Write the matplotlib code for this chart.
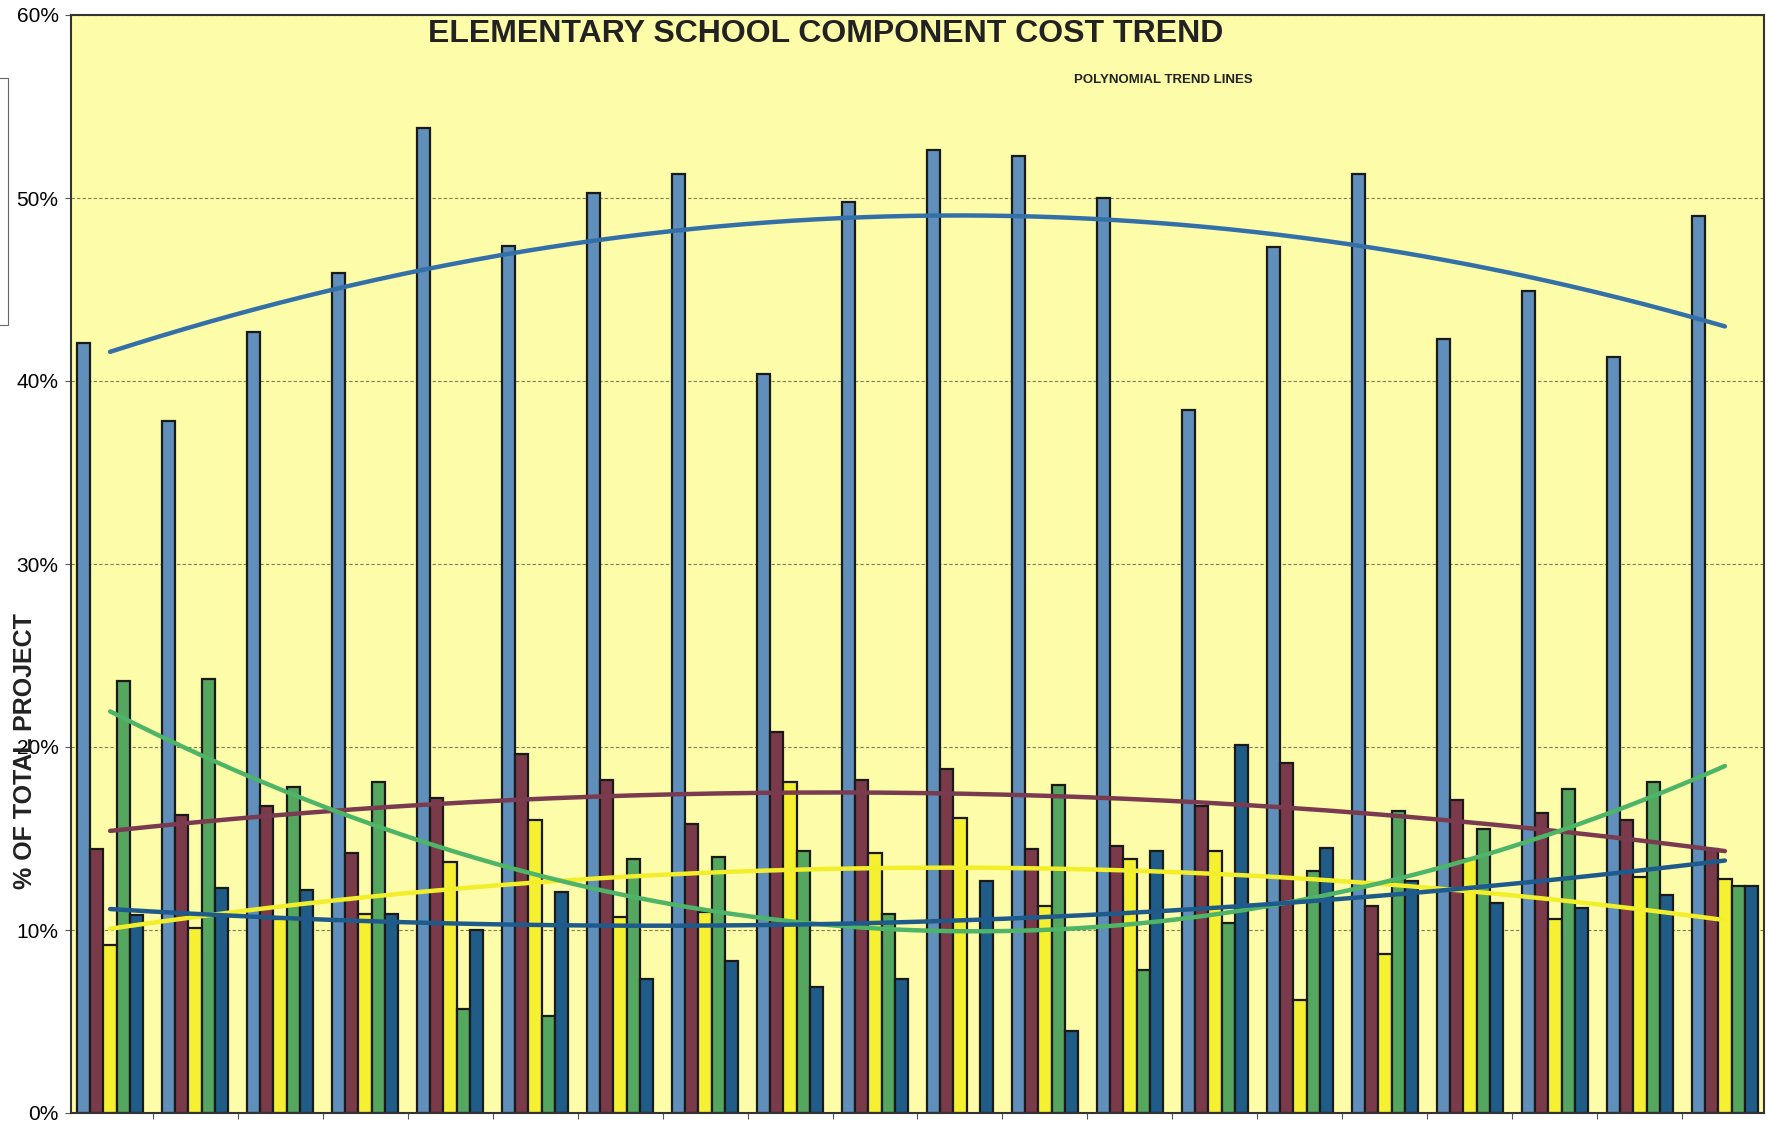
import numpy as np
import matplotlib.pyplot as plt
from matplotlib.patches import Rectangle

plt.rcParams['font.family'] = ['Liberation Sans', 'DejaVu Sans']

# bar values, % of total project, 20 projects
n_groups = 20
light_blue = [42.1, 37.8, 42.7, 45.9, 53.8, 47.4, 50.3, 51.3, 40.4, 49.8,
              52.6, 52.3, 50.0, 38.4, 47.3, 51.3, 42.3, 44.9, 41.3, 49.0]
maroon = [14.4, 16.3, 16.8, 14.2, 17.2, 19.6, 18.2, 15.8, 20.8, 18.2,
          18.8, 14.4, 14.6, 16.8, 19.1, 11.3, 17.1, 16.4, 16.0, 14.4]
yellow = [9.2, 10.1, 10.6, 10.9, 13.7, 16.0, 10.7, 11.0, 18.1, 14.2,
          16.1, 11.3, 13.9, 14.3, 6.2, 8.7, 13.9, 10.6, 12.9, 12.8]
# project 11 has no green value (counted as zero by the trend line)
green = [23.6, 23.7, 17.8, 18.1, 5.7, 5.3, 13.9, 14.0, 14.3, 10.9,
         0.0, 17.9, 7.8, 10.4, 13.2, 16.5, 15.5, 17.7, 18.1, 12.4]
dark_blue = [10.8, 12.3, 12.2, 10.9, 10.0, 12.1, 7.3, 8.3, 6.9, 7.3,
             12.7, 4.5, 14.3, 20.1, 14.5, 12.7, 11.5, 11.2, 11.9, 12.4]

series = [light_blue, maroon, yellow, green, dark_blue]
bar_colors = ['#5f8fba', '#7a3a4a', '#f6f032', '#55a65e', '#1f5c88']
trend_colors = ['#3470a8', '#7a3a50', '#f2ee2a', '#4db468', '#1f5a8c']

fig = plt.figure(figsize=(17.71, 11.21), dpi=100)
ax = fig.add_axes([71 / 1771, 8 / 1121, 1693 / 1771, 1098 / 1121])
ax.set_facecolor('#fdfca8')

x = np.arange(n_groups)
w = 0.1555
for k, vals in enumerate(series):
    v = np.array(vals)
    keep = v > 0
    ax.bar(x[keep] + (k - 2) * w, v[keep], width=w, color=bar_colors[k],
           edgecolor='#1a1a1a', linewidth=1.6, zorder=2)

# polynomial (order 2) trend lines
xs = np.linspace(0, n_groups - 1, 200)
for k, vals in enumerate(series):
    coef = np.polyfit(x, np.array(vals), 2)
    ax.plot(xs, np.polyval(coef, xs), color=trend_colors[k], lw=3.2,
            zorder=3, solid_capstyle='round')

ax.set_xlim(-0.46, n_groups - 1 + 0.46)
ax.set_ylim(0, 60)
ax.set_yticks(range(0, 61, 10))
ax.set_yticklabels([f'{t}%' for t in range(0, 61, 10)], fontsize=15)
ax.set_xticks(x[:-1] + 0.5)
ax.set_xticklabels([])
ax.tick_params(axis='both', direction='out', length=4, width=0.8,
               color='#555555')
ax.tick_params(axis='y', pad=5)
ax.yaxis.grid(True, linestyle=(0, (3, 2)), color='#7d7d5a', linewidth=0.8,
              zorder=1)
ax.set_axisbelow(True)
for s in ax.spines.values():
    s.set_color('#333333')
    s.set_linewidth(1.5)

ax.text(0.446, 0.983, 'ELEMENTARY SCHOOL COMPONENT COST TREND',
        transform=ax.transAxes, ha='center', va='center', fontsize=23,
        fontweight='bold', color='#222222')
ax.text(0.645, 0.941, 'POLYNOMIAL TREND LINES', transform=ax.transAxes,
        ha='center', va='center', fontsize=9.5, fontweight='bold',
        color='#222222')

fig.text(25 / 1771, 1 - 751 / 1121, '% OF TOTAL PROJECT', rotation=90,
         ha='center', va='center', fontsize=18, fontweight='bold',
         color='#222222')

# leftover box edge at the left border
fig.patches.append(Rectangle((-0.02, 1 - 325 / 1121), 0.0245, 247 / 1121,
                             transform=fig.transFigure, fill=False,
                             edgecolor='#666666', linewidth=0.8))

fig.savefig('out.png', dpi=100)
